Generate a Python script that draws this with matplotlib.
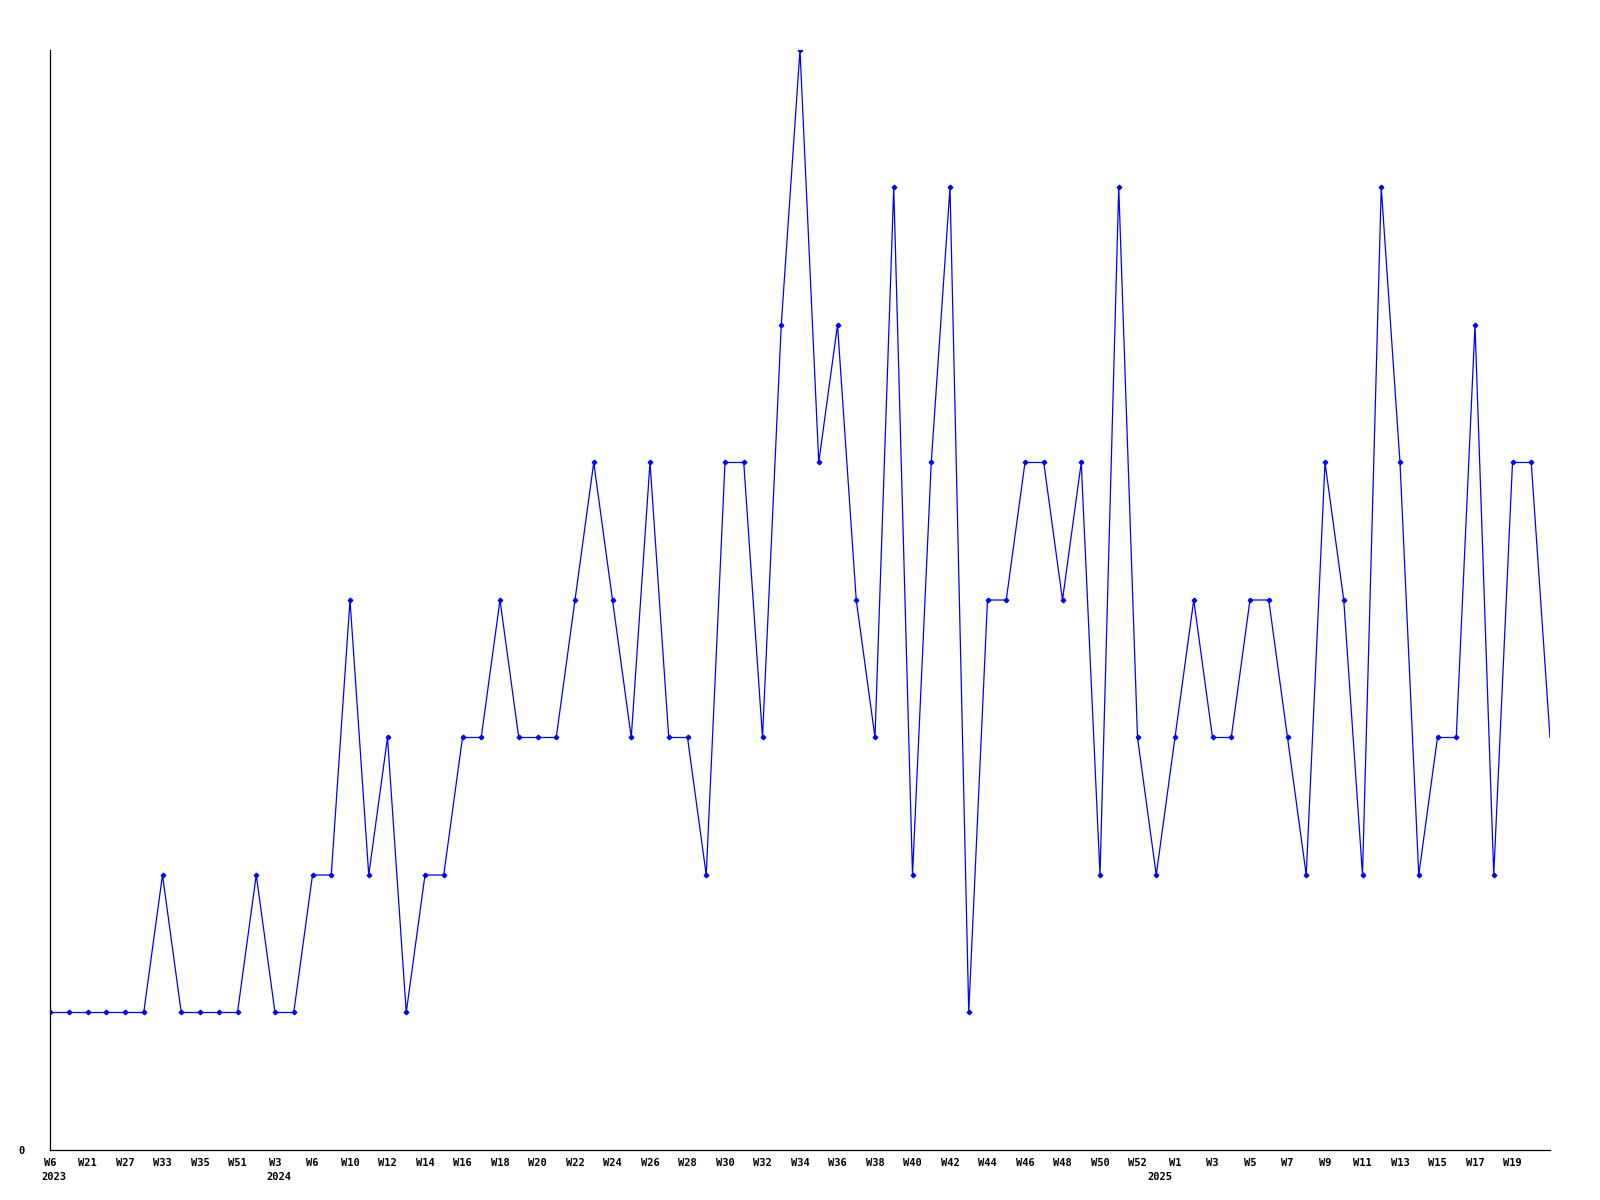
import matplotlib
matplotlib.use("Agg")
import matplotlib.pyplot as plt

# one value per week, oldest first (last week still running, drawn without marker)
counts = [1, 1, 1, 1, 1, 1, 2, 1, 1, 1, 1, 2, 1, 1, 2, 2, 4, 2, 3, 1,
          2, 2, 3, 3, 4, 3, 3, 3, 4, 5, 4, 3, 5, 3, 3, 2, 5, 5, 3, 6,
          8, 5, 6, 4, 3, 7, 2, 5, 7, 1, 4, 4, 5, 5, 4, 5, 2, 7, 3, 2,
          3, 4, 3, 3, 4, 4, 3, 2, 5, 4, 2, 7, 5, 2, 3, 3, 6, 2, 5, 5, 3]

# labels shown under every second point
week_labels = ["W6", "W21", "W27", "W33", "W35", "W51",
               "W3", "W6", "W10", "W12", "W14", "W16", "W18", "W20", "W22",
               "W24", "W26", "W28", "W30", "W32", "W34", "W36", "W38", "W40",
               "W42", "W44", "W46", "W48", "W50", "W52",
               "W1", "W3", "W5", "W7", "W9", "W11", "W13", "W15", "W17", "W19"]
years = ["2023", "2024", "2025"]
year_pos = [0, 12, 59]

x = list(range(len(counts)))

fig = plt.figure(figsize=(16, 12), dpi=100)
ax = fig.add_axes([0.03125, 0.04167, 0.9375, 0.91667])

ax.plot(x, counts, color="#0000ff", linewidth=0.9,
        marker="D", markersize=2.3, markevery=list(range(len(counts) - 1)))

ax.set_xlim(0, len(counts) - 1)
ax.set_ylim(0, max(counts))

font = dict(family="DejaVu Sans Mono", weight="bold", size=7.5)

ax.set_xticks(x[::2][:len(week_labels)])
ax.set_xticklabels(week_labels, **font)
ax.set_yticks([0])
ax.set_yticklabels(["0"], **font)
ax.tick_params(axis="x", length=0, pad=6)
ax.tick_params(axis="y", length=0, pad=18)

for yr, pos in zip(years, year_pos):
    ax.annotate(yr, xy=(pos, 0), xycoords=("data", "axes fraction"),
                xytext=(2.5, -19.5), textcoords="offset points",
                ha="center", va="center", **font)

for side in ["top", "right"]:
    ax.spines[side].set_visible(False)
for side in ["left", "bottom"]:
    ax.spines[side].set_linewidth(0.9)
    ax.spines[side].set_color("black")

fig.savefig("out.png", dpi=100)
